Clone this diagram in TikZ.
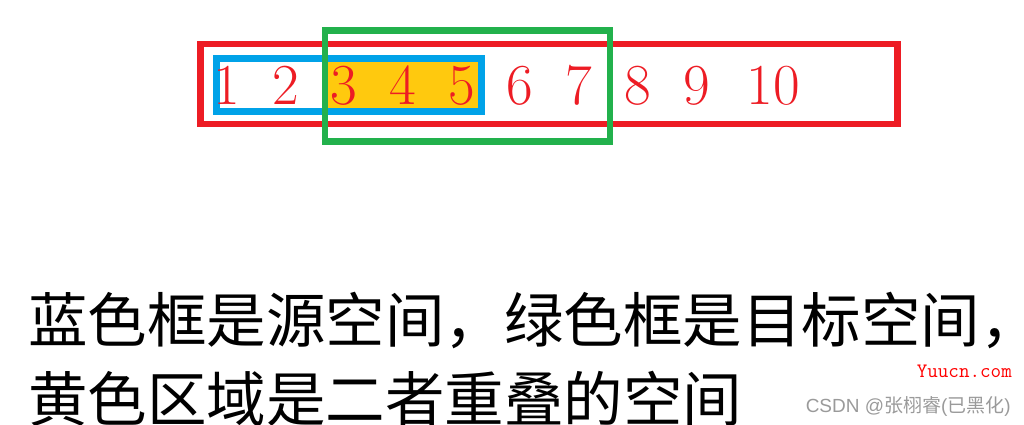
\documentclass[tikz,border=0pt]{standalone}
\usepackage{fontspec}
\newfontfamily\cjk{Noto Sans CJK SC}
\newfontfamily\wmsans{Liberation Sans}
\definecolor{pred}{HTML}{ED1C24}
\definecolor{pblue}{HTML}{00A2E8}
\definecolor{pgreen}{HTML}{22B14C}
\definecolor{pyellow}{HTML}{FFC90E}
\definecolor{wmgray}{HTML}{9A9A9A}
\tikzset{
  boxline/.style={line width=6.6pt},
  digit/.style={anchor=base,inner sep=0pt,text=pred,font=\fontsize{58}{58}\selectfont},
  cjkline/.style={anchor=base west,inner sep=0pt,font=\cjk\fontsize{59.5}{59.5}\selectfont}
}
\begin{document}
\begin{tikzpicture}[x=1pt,y=-1pt]
\useasboundingbox (0,0) rectangle (1024,425);
% overlap area
\fill[pyellow] (322,61.7) rectangle (478.3,108.3);
% source/target/whole boxes
\draw[boxline,pred] (200.6,44) rectangle (897.4,124);
\draw[boxline,pblue] (216.7,58.3) rectangle (481.7,111.7);
% digits
\node[digit] (n1) at (226.7,105) {1};
\node[digit] (n2) at (285.4,105) {2};
\node[digit] (n3) at (344,105) {3};
\node[digit] (n4) at (402.8,105) {4};
\node[digit] (n5) at (461.5,105) {5};
\node[digit] (n6) at (520,105) {6};
\node[digit] (n7) at (578.5,105) {7};
\node[digit] (n8) at (638,105) {8};
\node[digit] (n9) at (697,105) {9};
\node[digit] (n10) at (773.3,105) {10};
\draw[boxline,pgreen] (325,30.7) rectangle (610,141.7);
% caption
\node[cjkline] (l1) at (28,342) {蓝色框是源空间，绿色框是目标空间\makebox[0.4em][l]{，}};
\node[cjkline] (l2) at (28,421) {黄色区域是二者重叠的空间};
% watermarks
\node[anchor=base east,inner sep=0pt,text=red,font=\ttfamily\fontsize{20.5}{20.5}\selectfont] (wm1) at (1012,377) {Yuucn.com};
\node[anchor=base east,inner sep=0pt,text=wmgray,font=\wmsans\fontsize{19}{19}\selectfont] (wm2) at (1011,412) {CSDN @{\cjk 张栩睿}({\cjk 已黑化})};
\end{tikzpicture}
\end{document}
